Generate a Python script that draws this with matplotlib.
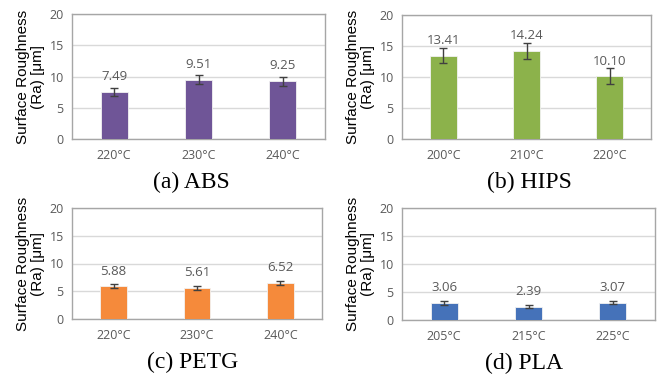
import matplotlib
matplotlib.use("Agg")
import matplotlib.pyplot as plt

# Data
abs_temps = ["220°C", "230°C", "240°C"]
abs_vals = [7.49, 9.51, 9.25]
abs_err = [0.64, 0.70, 0.70]

hips_temps = ["200°C", "210°C", "220°C"]
hips_vals = [13.41, 14.24, 10.10]
hips_err = [1.2, 1.3, 1.3]

petg_temps = ["220°C", "230°C", "240°C"]
petg_vals = [5.88, 5.61, 6.52]
petg_err = [0.35, 0.30, 0.35]

pla_temps = ["205°C", "215°C", "225°C"]
pla_vals = [3.06, 2.39, 3.07]
pla_err = [0.30, 0.30, 0.30]

titles = ["(a) ABS", "(b) HIPS", "(c) PETG", "(d) PLA"]
colors = ["#6F5597", "#8CB24B", "#F58A3B", "#4572B9"]
yticks = [0, 5, 10, 15, 20]

panels = [
    (abs_temps, abs_vals, abs_err),
    (hips_temps, hips_vals, hips_err),
    (petg_temps, petg_vals, petg_err),
    (pla_temps, pla_vals, pla_err),
]

W, H = 661, 376
fig = plt.figure(figsize=(W / 100, H / 100), dpi=100)

# axes rectangles in pixel coords: left, top, right, bottom
rects = [
    (72, 14, 325, 139),
    (402, 15, 651, 139),
    (72, 208, 322, 319),
    (402, 208, 655, 320),
]
title_pos = [(191, 182), (529, 182), (193, 362), (524, 363)]

gray = "#595959"
for (temps, vals, err), title, color, (l, t, r, b), (tx, ty) in zip(
        panels, titles, colors, rects, title_pos):
    ax = fig.add_axes([l / W, 1 - b / H, (r - l) / W, (b - t) / H])
    x = range(len(temps))
    ax.bar(x, vals, width=0.32, color=color, edgecolor="#F2F2F2", linewidth=0.6, zorder=3)
    ax.errorbar(x, vals, yerr=err, fmt="none", ecolor="#404040", elinewidth=1.0,
                capsize=3, capthick=1.0, zorder=4)
    for xi, v in zip(x, vals):
        ax.annotate(f"{v:.2f}", (xi, v), xytext=(0, 11), textcoords="offset points",
                    ha="center", va="center", fontsize=9.5, color=gray,
                    family="Open Sans")
    ax.set_xlim(-0.5, len(temps) - 0.5)
    ax.set_ylim(0, 20)
    ax.set_yticks(yticks)
    ax.set_xticks(list(x))
    ax.set_xticklabels(temps)
    ax.tick_params(axis="both", length=0, colors=gray, labelsize=9)
    ax.tick_params(axis="x", pad=7)
    ax.tick_params(axis="y", pad=6)
    for lab in ax.get_xticklabels() + ax.get_yticklabels():
        lab.set_family("Open Sans")
    ax.grid(axis="y", color="#D9D9D9", linewidth=1.0, zorder=0)
    ax.set_axisbelow(True)
    for s in ax.spines.values():
        s.set_color("#A6A6A6")
        s.set_linewidth(1.0)
    ax.set_ylabel("Surface Roughness\n(Ra) [μm]", fontsize=11, color="black",
                  family="Liberation Sans", linespacing=1.05)
    ax.yaxis.set_label_coords(-27 / (r - l), 0.5)
    fig.text(tx / W, 1 - ty / H, title, ha="center", va="center",
             fontsize=17, family="Liberation Serif", color="black")

fig.savefig("out.png", dpi=100)
